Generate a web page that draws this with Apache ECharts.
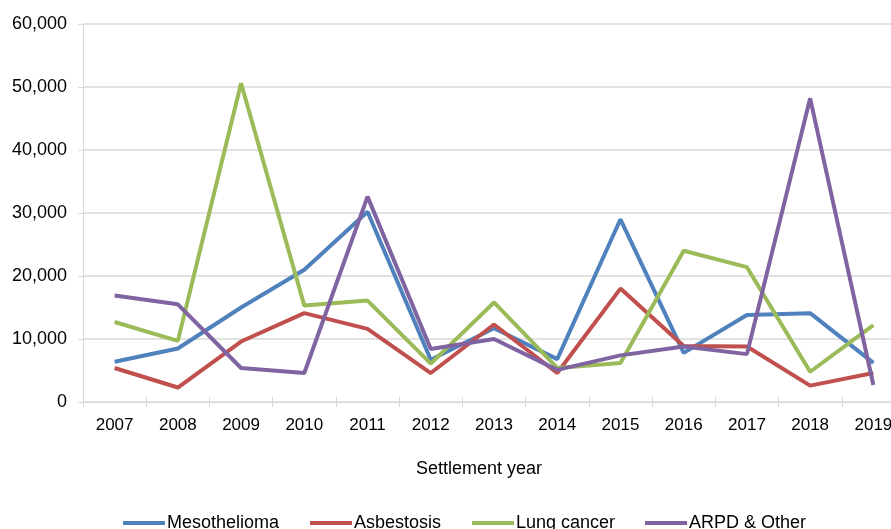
<!DOCTYPE html>
<html>
<head>
<meta charset="utf-8">
<script src="https://cdn.jsdelivr.net/npm/echarts@6/dist/echarts.min.js"></script>
<style>html,body{margin:0;padding:0;background:#fff;overflow:hidden;}#c{width:905px;height:529px;}</style>
</head>
<body>
<div id="c"></div>
<script>
var years = ['2007','2008','2009','2010','2011','2012','2013','2014','2015','2016','2017','2018','2019'];
var mesothelioma = [6400, 8500, 15000, 21000, 30200, 6700, 11700, 6800, 29000, 7800, 13800, 14100, 6200];
var asbestosis   = [5400, 2300, 9600, 14100, 11600, 4600, 12300, 4600, 18000, 8900, 8800, 2600, 4600];
var lungCancer   = [12700, 9700, 50600, 15300, 16100, 6100, 15800, 5400, 6200, 24000, 21400, 4800, 12200];
var arpdOther    = [16900, 15500, 5400, 4600, 32600, 8400, 10000, 5100, 7400, 8800, 7600, 48200, 2700];
var seriesNames = ['Mesothelioma', 'Asbestosis', 'Lung cancer', 'ARPD & Other'];
var colors = ['#4F81BD', '#C0504D', '#9BBB59', '#8064A2'];
var yTicks = { min: 0, max: 60000, interval: 10000 };

var font = 'Liberation Sans, Arial, sans-serif';
var chart = echarts.init(document.getElementById('c'), null, {renderer: 'canvas'});
var dataSets = [mesothelioma, asbestosis, lungCancer, arpdOther];
var legendLefts = [123, 310, 472, 645];
chart.setOption({
  animation: false,
  color: colors,
  grid: { left: 83, top: 24, right: 0, bottom: 127, containLabel: false },
  legend: seriesNames.map(function(n, i){
    return {
      data: [{name: n, icon: 'rect'}],
      top: 514, left: legendLefts[i], padding: 0,
      itemWidth: 42, itemHeight: 4, itemGap: 0,
      textStyle: { fontFamily: font, fontSize: 18, color: '#000', padding: [0,0,0,-3] }
    };
  }),
  graphic: [{
    type: 'text', left: 416, top: 460,
    style: { text: 'Settlement year', font: '18px ' + font, fill: '#000' }
  }],
  xAxis: [{
    type: 'category', data: years, boundaryGap: true,
    axisLine: { lineStyle: { color: '#d9d9d9', width: 1 } },
    axisTick: { show: true, length: 5, lineStyle: { color: '#d9d9d9' } },
    axisLabel: { fontFamily: font, fontSize: 17, color: '#000', margin: 15 }
  }, {
    type: 'category', data: years, boundaryGap: true, position: 'bottom',
    axisLine: { show: false },
    axisTick: { show: true, inside: true, length: 5, lineStyle: { color: '#d9d9d9' } },
    axisLabel: { show: false }
  }],
  yAxis: {
    type: 'value', min: yTicks.min, max: yTicks.max, interval: yTicks.interval,
    axisLine: { show: true, lineStyle: { color: '#d9d9d9' } },
    axisTick: { show: true, length: 5, lineStyle: { color: '#d9d9d9' } },
    splitLine: { lineStyle: { color: '#d9d9d9', width: 1.5 } },
    axisLabel: {
      fontFamily: font, fontSize: 18, color: '#000', margin: 16,
      formatter: function(v){ return v.toLocaleString('en-US'); }
    }
  },
  series: dataSets.map(function(d, i){
    return {
      name: seriesNames[i], type: 'line', data: d,
      symbol: 'none', lineStyle: { width: 4, color: colors[i] },
      itemStyle: { color: colors[i] }
    };
  })
});
</script>
</body>
</html>
